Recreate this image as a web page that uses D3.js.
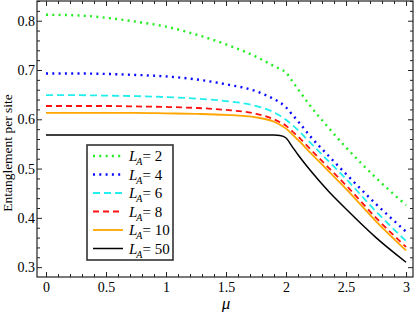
<!DOCTYPE html>
<html>
<head>
<meta charset="utf-8">
<script src="https://cdn.jsdelivr.net/npm/d3@7"></script>
<style>
  body { margin: 0; background: #fff; }
  svg { display: block; font-family: "Liberation Serif", "Times New Roman", serif; }
</style>
</head>
<body>
<svg id="chart"></svg>
<script>
var mu = [0, 0.25, 0.5, 0.75, 1, 1.25, 1.5, 1.75, 1.9, 1.95, 2, 2.05, 2.1, 2.2, 2.35, 2.5, 2.75, 3];

var sizes = ["2", "4", "6", "8", "10", "50"];

var entL2  = [0.812, 0.811, 0.806, 0.798, 0.788, 0.772, 0.752, 0.727, 0.708, 0.702, 0.695, 0.678, 0.661, 0.628, 0.584, 0.543, 0.481, 0.426];
var entL4  = [0.693, 0.693, 0.692, 0.690, 0.687, 0.681, 0.671, 0.657, 0.641, 0.634, 0.624, 0.610, 0.596, 0.566, 0.527, 0.489, 0.428, 0.372];
var entL6  = [0.649, 0.649, 0.648, 0.647, 0.645, 0.642, 0.637, 0.627, 0.614, 0.607, 0.599, 0.589, 0.578, 0.553, 0.516, 0.479, 0.413, 0.353];
var entL8  = [0.627, 0.627, 0.627, 0.626, 0.625, 0.623, 0.619, 0.611, 0.600, 0.594, 0.587, 0.576, 0.565, 0.540, 0.503, 0.466, 0.400, 0.341];
var entL10 = [0.613, 0.613, 0.613, 0.613, 0.612, 0.611, 0.609, 0.604, 0.595, 0.589, 0.581, 0.570, 0.558, 0.533, 0.496, 0.459, 0.393, 0.334];
var entL50 = [0.568, 0.568, 0.568, 0.568, 0.568, 0.568, 0.568, 0.568, 0.568, 0.567, 0.562, 0.545, 0.528, 0.497, 0.455, 0.418, 0.360, 0.310];

var xTicks = [0, 0.5, 1, 1.5, 2, 2.5, 3];
var yTicks = [0.3, 0.4, 0.5, 0.6, 0.7, 0.8];

var width = 415;
var height = 312;
var margin = {top: 1, right: 2, bottom: 35, left: 37};
var chartWidth = width - margin.left - margin.right;
var chartHeight = height - margin.top - margin.bottom;

var series = [
  {name: sizes[0], values: entL2,  color: "#22ee22", dash: "2,4.3", w: 2.4},
  {name: sizes[1], values: entL4,  color: "#0a0aff", dash: "2,4.3", w: 2.4},
  {name: sizes[2], values: entL6,  color: "#22eeee", dash: "7,4",   w: 1.8},
  {name: sizes[3], values: entL8,  color: "#ff1010", dash: "6,4",   w: 1.8},
  {name: sizes[4], values: entL10, color: "#ffa500", dash: null,    w: 1.8},
  {name: sizes[5], values: entL50, color: "#000000", dash: null,    w: 1.5}
];

var svg = d3.select("#chart")
            .attr("width", width)
            .attr("height", height);

var x = d3.scaleLinear()
          .domain([-0.075, 3.058])
          .range([margin.left, margin.left + chartWidth]);

var y = d3.scaleLinear()
          .domain([0.28, 0.84])
          .range([margin.top + chartHeight, margin.top]);

var xMinor = d3.range(0, 3.001, 0.1).filter(function(v){ return Math.abs(v * 2 - Math.round(v * 2)) > 1e-6; });
var yMinor = d3.range(0.3, 0.8401, 0.02).filter(function(v){ return Math.abs(v * 10 - Math.round(v * 10)) > 1e-6; });

var bottom = margin.top + chartHeight;
var right = margin.left + chartWidth;

// minor ticks (all four sides, pointing in)
function minorAxis(axis, ticks, transform){
  svg.append("g")
     .attr("transform", transform)
     .call(axis.tickValues(ticks).tickSize(-3).tickFormat(""))
     .call(function(g){ g.select(".domain").remove(); });
}
minorAxis(d3.axisBottom(x), xMinor, "translate(0," + bottom + ")");
minorAxis(d3.axisTop(x), xMinor, "translate(0," + margin.top + ")");
minorAxis(d3.axisLeft(y), yMinor, "translate(" + margin.left + ",0)");
minorAxis(d3.axisRight(y), yMinor, "translate(" + right + ",0)");

// major ticks
var xAxis = d3.axisBottom(x).tickValues(xTicks).tickSize(-5).tickPadding(5)
              .tickFormat(function(d){ return d3.format("")(d); });
svg.append("g")
   .attr("class", "xaxis")
   .attr("transform", "translate(0," + bottom + ")")
   .call(xAxis);

svg.append("g")
   .attr("transform", "translate(0," + margin.top + ")")
   .call(d3.axisTop(x).tickValues(xTicks).tickSize(-5).tickFormat(""));

var yAxis = d3.axisLeft(y).tickValues(yTicks).tickSize(-5).tickPadding(2)
              .tickFormat(d3.format(".1f"));
svg.append("g")
   .attr("class", "yaxis")
   .attr("transform", "translate(" + margin.left + ",0)")
   .call(yAxis);

svg.append("g")
   .attr("transform", "translate(" + right + ",0)")
   .call(d3.axisRight(y).tickValues(yTicks).tickSize(-5).tickFormat(""));

svg.selectAll(".domain").remove();
svg.selectAll(".tick line").attr("stroke", "#222");
svg.selectAll(".xaxis text, .yaxis text")
   .attr("font-family", "Liberation Serif, serif")
   .attr("font-size", 14)
   .attr("fill", "#000");

svg.append("rect")
   .attr("x", margin.left)
   .attr("y", margin.top)
   .attr("width", chartWidth)
   .attr("height", chartHeight)
   .attr("fill", "none")
   .attr("stroke", "#222")
   .attr("stroke-width", 1.2);

var line = d3.line()
             .x(function(d, i){ return x(mu[i]); })
             .y(function(d){ return y(d); })
             .curve(d3.curveMonotoneX);

svg.append("g").selectAll("path")
   .data(series.slice().reverse())
   .enter().append("path")
   .attr("d", function(d){ return line(d.values); })
   .attr("fill", "none")
   .attr("stroke", function(d){ return d.color; })
   .attr("stroke-width", function(d){ return d.w; })
   .attr("stroke-dasharray", function(d){ return d.dash; });

// axis titles
svg.append("text")
   .attr("x", x(1.5))
   .attr("y", 309)
   .attr("text-anchor", "middle")
   .attr("font-size", 17)
   .attr("font-style", "italic")
   .text("μ");

svg.append("text")
   .attr("transform", "translate(12," + (margin.top + chartHeight / 2 + 14) + ") rotate(-90)")
   .attr("text-anchor", "middle")
   .attr("font-size", 13.5)
   .text("Entanglement per site");

// legend
var legend = svg.append("g").attr("transform", "translate(87,145)");
legend.append("rect")
      .attr("width", 86)
      .attr("height", 115)
      .attr("fill", "#fff")
      .attr("stroke", "#333")
      .attr("stroke-width", 1.6);

var items = legend.selectAll(".item")
                  .data(series)
                  .enter().append("g")
                  .attr("class", "item")
                  .attr("transform", function(d, i){ return "translate(0," + (11 + i * 18.5) + ")"; });

items.append("line")
     .attr("x1", 6).attr("x2", 36)
     .attr("stroke", function(d){ return d.color; })
     .attr("stroke-width", function(d){ return d.w; })
     .attr("stroke-dasharray", function(d){ return d.dash; });

var label = items.append("text")
                 .attr("x", 42)
                 .attr("y", 5)
                 .attr("font-size", 15);
label.append("tspan").attr("font-style", "italic").text("L");
label.append("tspan").attr("font-style", "italic").attr("font-size", 10).attr("dy", 4).attr("dx", -1).text("A");
label.append("tspan").attr("dy", -4).text(function(d){ return "= " + d.name; });
</script>
</body>
</html>
